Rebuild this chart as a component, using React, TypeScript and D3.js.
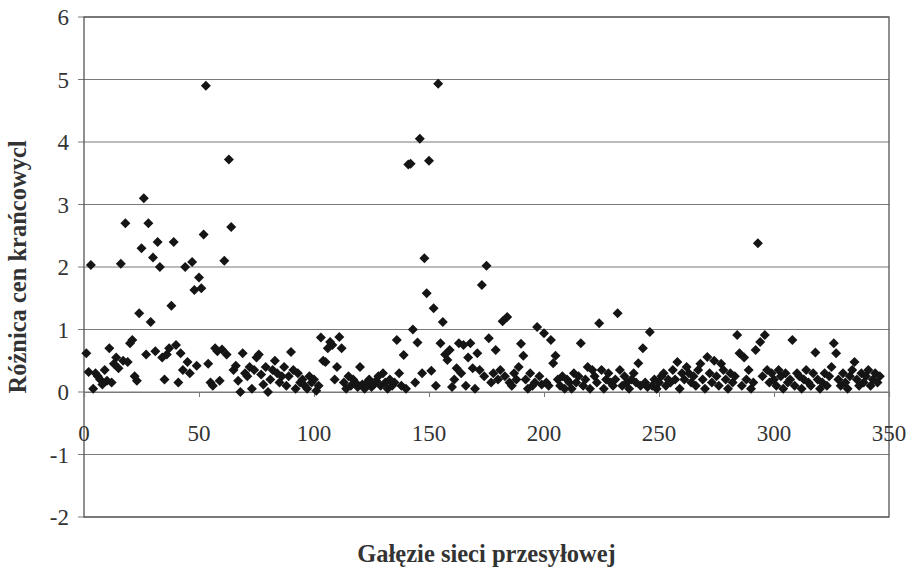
import React, { useRef, useEffect } from 'react';
import * as d3 from 'd3';

// Różnica cen krańcowych for each transmission branch (index 1..N)
const priceDiff: number[] = [
  // 1-10
  0.62, 0.32, 2.03, 0.05, 0.3, 0.25, 0.2, 0.12, 0.35, 0.18,
  // 11-20
  0.7, 0.15, 0.45, 0.55, 0.38, 2.05, 0.5, 2.7, 0.48, 0.78,
  // 21-30
  0.83, 0.25, 0.18, 1.26, 2.3, 3.1, 0.6, 2.7, 1.12, 2.15,
  // 31-40
  0.65, 2.4, 2.0, 0.55, 0.2, 0.6, 0.7, 1.38, 2.4, 0.75,
  // 41-50
  0.15, 0.62, 0.35, 2.0, 0.48, 0.3, 2.08, 1.63, 0.42, 1.83,
  // 51-60
  1.66, 2.52, 4.9, 0.45, 0.15, 0.1, 0.7, 0.65, 0.18, 0.68,
  // 61-70
  2.1, 0.6, 3.72, 2.64, 0.35, 0.42, 0.18, 0.0, 0.62, 0.3,
  // 71-80
  0.25, 0.4, 0.05, 0.35, 0.55, 0.6, 0.28, 0.12, 0.4, 0.0,
  // 81-90
  0.2, 0.35, 0.5, 0.3, 0.15, 0.25, 0.4, 0.1, 0.25, 0.64,
  // 91-100
  0.35, 0.05, 0.3, 0.15, 0.2, 0.1, 0.05, 0.25, 0.15, 0.2,
  // 101-110
  0.02, 0.1, 0.87, 0.5, 0.48, 0.7, 0.8, 0.75, 0.2, 0.4,
  // 111-120
  0.88, 0.7, 0.15, 0.05, 0.25, 0.1, 0.2, 0.15, 0.08, 0.4,
  // 121-130
  0.12, 0.05, 0.15, 0.2, 0.08, 0.12, 0.18, 0.25, 0.1, 0.3,
  // 131-140
  0.15, 0.05, 0.2, 0.1, 0.15, 0.83, 0.3, 0.1, 0.59, 0.05,
  // 141-150
  3.64, 3.65, 1.0, 0.15, 0.79, 4.05, 0.3, 2.14, 1.58, 3.7,
  // 151-160
  0.34, 1.34, 0.1, 4.93, 0.78, 1.12, 0.6, 0.51, 0.67, 0.08,
  // 161-170
  0.2, 0.38, 0.78, 0.3, 0.75, 0.1, 0.55, 0.78, 0.38, 0.05,
  // 171-180
  0.62, 0.35, 1.71, 0.25, 2.02, 0.86, 0.15, 0.3, 0.67, 0.2,
  // 181-190
  0.35, 1.13, 0.25, 1.2, 0.15, 0.1, 0.3, 0.2, 0.4, 0.77,
  // 191-200
  0.58, 0.2, 0.05, 0.3, 0.1, 0.15, 1.04, 0.25, 0.12, 0.94,
  // 201-210
  0.15, 0.1, 0.83, 0.46, 0.58, 0.2, 0.1, 0.25, 0.05, 0.2,
  // 211-220
  0.15, 0.05, 0.3, 0.15, 0.25, 0.78, 0.1, 0.2, 0.4, 0.05,
  // 221-230
  0.35, 0.25, 0.15, 1.1, 0.35, 0.05, 0.2, 0.3, 0.15, 0.1,
  // 231-240
  0.2, 1.26, 0.35, 0.1, 0.25, 0.15, 0.05, 0.2, 0.3, 0.15,
  // 241-250
  0.46, 0.1, 0.7, 0.15, 0.08, 0.96, 0.1, 0.2, 0.05, 0.15,
  // 251-260
  0.25, 0.3, 0.1, 0.2, 0.15, 0.35, 0.2, 0.48, 0.05, 0.3,
  // 261-270
  0.2, 0.4, 0.3, 0.15, 0.25, 0.1, 0.35, 0.45, 0.2, 0.05,
  // 271-280
  0.56, 0.3, 0.15, 0.5, 0.25, 0.1, 0.45, 0.35, 0.2, 0.05,
  // 281-290
  0.3, 0.15, 0.25, 0.91, 0.62, 0.1, 0.55, 0.2, 0.35, 0.05,
  // 291-300
  0.15, 0.67, 2.38, 0.8, 0.25, 0.91, 0.35, 0.15, 0.3, 0.2,
  // 301-310
  0.1, 0.35, 0.25, 0.05, 0.3, 0.15, 0.2, 0.83, 0.1, 0.3,
  // 311-320
  0.25, 0.05, 0.2, 0.35, 0.15, 0.1, 0.3, 0.63, 0.2, 0.05,
  // 321-330
  0.15, 0.3, 0.1, 0.25, 0.4, 0.78, 0.62, 0.2, 0.1, 0.3,
  // 331-340
  0.15, 0.05, 0.25, 0.35, 0.48, 0.2, 0.1, 0.3, 0.15, 0.25,
  // 341-346
  0.35, 0.1, 0.2, 0.3, 0.15, 0.25,
];

const xTicks = [0, 50, 100, 150, 200, 250, 300, 350];
const yTicks = [-2, -1, 0, 1, 2, 3, 4, 5, 6];

const App = () => {
  const svgRef = useRef<SVGSVGElement>(null);
  const width = 914;
  const height = 579;

  useEffect(() => {
    if (!svgRef.current) return;
    const svg = d3.select(svgRef.current);
    svg.selectAll('*').remove();

    const left = 84, right = 889, top = 17, bottom = 517;
    const font = '"Liberation Serif", "Times New Roman", serif';

    const x = d3.scaleLinear().domain([0, 350]).range([left, right]);
    const y = d3.scaleLinear().domain([-2, 6]).range([bottom, top]);

    svg.append('rect').attr('width', width).attr('height', height).attr('fill', '#fff');

    // horizontal gridlines (with short outward ticks)
    svg.append('g')
      .selectAll('line')
      .data(yTicks)
      .enter()
      .append('line')
      .attr('x1', left - 6)
      .attr('x2', right)
      .attr('y1', d => y(d))
      .attr('y2', d => y(d))
      .attr('stroke', '#7a7a7a')
      .attr('stroke-width', 1.2);

    // plot frame
    svg.append('rect')
      .attr('x', left)
      .attr('y', top)
      .attr('width', right - left)
      .attr('height', bottom - top)
      .attr('fill', 'none')
      .attr('stroke', '#555')
      .attr('stroke-width', 1.3);

    // x axis drawn at y = 0
    const xAxis = d3.axisBottom(x).tickValues(xTicks).tickSize(5).tickFormat(() => '');
    const gx = svg.append('g')
      .attr('transform', `translate(0, ${y(0)})`)
      .call(xAxis);
    gx.select('.domain').attr('stroke', '#7a7a7a').attr('stroke-width', 1.2);
    gx.selectAll('.tick line').attr('stroke', '#7a7a7a');

    // x tick labels
    svg.append('g')
      .selectAll('text')
      .data(xTicks)
      .enter()
      .append('text')
      .attr('x', d => x(d))
      .attr('y', y(0) + 49)
      .attr('text-anchor', 'middle')
      .attr('font-family', font)
      .attr('font-size', 23)
      .attr('fill', '#333')
      .text(d => d);

    // y tick labels
    svg.append('g')
      .selectAll('text')
      .data(yTicks)
      .enter()
      .append('text')
      .attr('x', left - 15)
      .attr('y', d => y(d) + 8)
      .attr('text-anchor', 'end')
      .attr('font-family', font)
      .attr('font-size', 23)
      .attr('fill', '#333')
      .text(d => d);

    // diamonds
    const diamond = d3.symbol().type(d3.symbolSquare).size(50);
    svg.append('g')
      .selectAll('path')
      .data(priceDiff)
      .enter()
      .append('path')
      .attr('d', diamond)
      .attr('transform', (d, i) => `translate(${x(i + 1)}, ${y(d)}) rotate(45)`)
      .attr('fill', '#151515');

    // axis titles
    svg.append('text')
      .attr('transform', `translate(26, ${(top + bottom) / 2}) rotate(-90)`)
      .attr('text-anchor', 'middle')
      .attr('font-family', font)
      .attr('font-weight', 'bold')
      .attr('font-size', 24.5)
      .attr('fill', '#333')
      .text('Różnica cen krańcowycl');

    svg.append('text')
      .attr('x', (left + right) / 2)
      .attr('y', 562)
      .attr('text-anchor', 'middle')
      .attr('font-family', font)
      .attr('font-weight', 'bold')
      .attr('font-size', 24.5)
      .attr('fill', '#333')
      .text('Gałęzie sieci przesyłowej');
  }, []);

  return (
    <svg
      ref={svgRef}
      width={width}
      height={height}
      style={{ position: 'absolute', left: 0, top: 0, display: 'block' }}
    />
  );
};

export default App;
